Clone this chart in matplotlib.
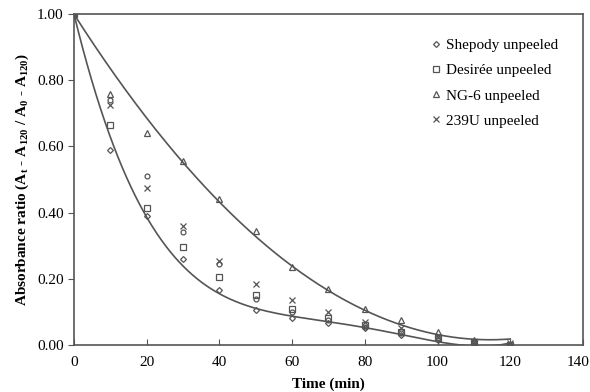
import numpy as np
import matplotlib
matplotlib.use("Agg")
import matplotlib.pyplot as plt
import matplotlib.transforms as mtransforms

plt.rcParams["font.family"] = ["Liberation Serif", "DejaVu Serif"]

time = [0, 10, 20, 30, 40, 50, 60, 70, 80, 90, 100, 110, 120]
shepody = [1.0, 0.59, 0.39, 0.26, 0.165, 0.105, 0.08, 0.065, 0.05, 0.03, 0.015, 0.005, 0.0]
desiree = [1.0, 0.665, 0.415, 0.295, 0.205, 0.15, 0.11, 0.08, 0.06, 0.04, 0.02, 0.01, 0.0]
ng6 = [1.0, 0.76, 0.64, 0.555, 0.44, 0.345, 0.235, 0.17, 0.11, 0.075, 0.04, 0.015, 0.0]
u239 = [1.0, 0.725, 0.475, 0.36, 0.255, 0.185, 0.135, 0.10, 0.07, 0.05, 0.025, 0.01, 0.005]
other = [1.0, 0.74, 0.51, 0.34, 0.245, 0.14, 0.10, 0.075, 0.055, 0.035, 0.02, 0.01, 0.0]

gray = "#555555"

fig = plt.figure(figsize=(5.9, 3.92), dpi=100)
ax = fig.add_axes([0.1254, 0.12, 0.8627, 0.844])

t = np.array(time)
# trendlines: polynomial fits, pinned at t=0
w = np.ones(len(t))
w[0] = 20
tt = np.linspace(0, 120, 300)
low = np.polyval(np.polyfit(t, shepody, 4, w=w), tt)
high = np.polyval(np.polyfit(t, ng6, 2, w=w), tt)
ax.plot(tt, low, color=gray, lw=1.2, zorder=1)
ax.plot(tt, high, color=gray, lw=1.2, zorder=1)

ms = 4
ax.plot(time, shepody, "D", ms=3, mfc="none", mec=gray, mew=0.9, ls="none", label="Shepody unpeeled")
ax.plot(time, desiree, "s", ms=ms, mfc="none", mec=gray, mew=0.9, ls="none", label="Desirée unpeeled")
ax.plot(time, ng6, "^", ms=ms, mfc="none", mec=gray, mew=0.9, ls="none", label="NG-6 unpeeled")
ax.plot(time, u239, "x", ms=ms, mec=gray, mew=0.9, ls="none", label="239U unpeeled")
ax.plot(time, other, "o", ms=3.5, mfc="none", mec=gray, mew=0.9, ls="none")

ax.set_xlim(0, 140)
ax.set_ylim(0, 1.0)
ax.set_xticks(range(0, 141, 20))
ax.set_yticks(np.arange(0, 1.01, 0.2))
ax.set_yticklabels(["%.2f" % v for v in np.arange(0, 1.01, 0.2)])
ax.tick_params(labelsize=11, color=gray, length=4)
ax.tick_params(axis="x", direction="in", pad=8)
for s in ax.spines.values():
    s.set_color(gray)
    s.set_linewidth(1.2)

# nudge the last x label so it stays inside the figure
last = ax.get_xticklabels()[-1]
last.set_transform(last.get_transform() + mtransforms.ScaledTranslation(-5 / 100, 0, fig.dpi_scale_trans))

ax.set_xlabel("Time (min)", fontsize=11, fontweight="bold", labelpad=6)
ax.set_ylabel("Absorbance ratio (A$_\\mathregular{t}$ - A$_\\mathregular{120}$ / A$_\\mathregular{0}$ - A$_\\mathregular{120}$)",
              fontsize=11, fontweight="bold")

ax.legend(loc="upper right", frameon=False, fontsize=11, handletextpad=0.2,
          labelspacing=0.75, handlelength=1.0, borderaxespad=1.2)

fig.savefig("out.png", dpi=100)
